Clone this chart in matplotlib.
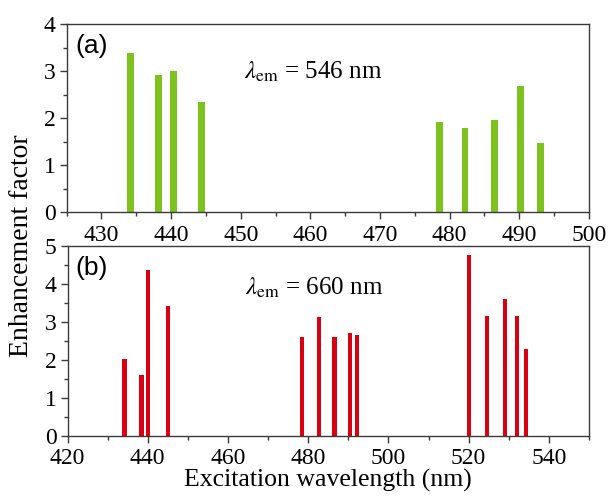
import matplotlib
matplotlib.use("Agg")
import matplotlib.pyplot as plt
from matplotlib.ticker import MultipleLocator

# Data (panel a: emission 546 nm)
wl_a = [434.2, 438.2, 440.3, 444.3, 478.5, 482.2, 486.5, 490.2, 493.0]
ef_a = [3.40, 2.93, 3.01, 2.35, 1.93, 1.79, 1.96, 2.68, 1.48]

# Data (panel b: emission 660 nm)
wl_b = [434.2, 438.4, 440.1, 445.1, 478.4, 482.7, 486.6, 490.4, 492.2,
        520.1, 524.6, 529.0, 532.1, 534.3]
ef_b = [2.02, 1.61, 4.37, 3.42, 2.61, 3.12, 2.61, 2.72, 2.65,
        4.77, 3.16, 3.60, 3.16, 2.29]

green = "#7DC21E"
red = "#DA0012"
spine_c = "#3a3a3a"

plt.rcParams['font.family'] = ['Liberation Serif', 'DejaVu Serif']
plt.rcParams['mathtext.fontset'] = 'stix'

fig = plt.figure(figsize=(6.10, 4.97), dpi=100)
ax1 = fig.add_axes([0.1093, 0.5728, 0.8562, 0.3783])
ax2 = fig.add_axes([0.1107, 0.1233, 0.8548, 0.3817])

ax1.bar(wl_a, ef_a, width=1.0, color=green, edgecolor='none')
ax2.bar(wl_b, ef_b, width=1.1, color=red, edgecolor='none')

ax1.set_xlim(425, 500)
ax1.set_ylim(0, 4)
ax1.xaxis.set_major_locator(MultipleLocator(10))
ax1.xaxis.set_minor_locator(MultipleLocator(5))
ax1.yaxis.set_major_locator(MultipleLocator(1))
ax1.yaxis.set_minor_locator(MultipleLocator(0.5))

ax2.set_xlim(420, 550)
ax2.set_ylim(0, 5)
ax2.xaxis.set_major_locator(MultipleLocator(20))
ax2.xaxis.set_minor_locator(MultipleLocator(10))
ax2.yaxis.set_major_locator(MultipleLocator(1))
ax2.yaxis.set_minor_locator(MultipleLocator(0.5))

for ax in (ax1, ax2):
    for s in ax.spines.values():
        s.set_color(spine_c)
        s.set_linewidth(1.0)
    ax.tick_params(which='both', direction='out', colors=spine_c,
                   labelcolor='black', labelsize=17, top=False, right=False,
                   width=1.0)
    ax.tick_params(which='major', length=5)
    ax.tick_params(axis='y', which='major', pad=3)
    ax.tick_params(axis='x', which='major', pad=4)
    ax.tick_params(which='minor', length=3)

ax1.text(0.016, 0.885, '(a)', transform=ax1.transAxes, fontsize=19,
         family=['Liberation Sans', 'DejaVu Sans'], va='center', ha='left')
ax2.text(0.016, 0.885, '(b)', transform=ax2.transAxes, fontsize=19,
         family=['Liberation Sans', 'DejaVu Sans'], va='center', ha='left')

ax1.text(0.34, 0.745, r'$\lambda_{\rm em}$ = 546 nm', transform=ax1.transAxes,
         fontsize=18, va='center', ha='left')
ax2.text(0.34, 0.78, r'$\lambda_{\rm em}$ = 660 nm', transform=ax2.transAxes,
         fontsize=18, va='center', ha='left')

ax2.set_xlabel('Excitation wavelength (nm)', fontsize=18.5, labelpad=0)
fig.text(0.036, 0.505, 'Enhancement factor', rotation=90, fontsize=20,
         va='center', ha='center')

fig.savefig('out.png', dpi=100)
